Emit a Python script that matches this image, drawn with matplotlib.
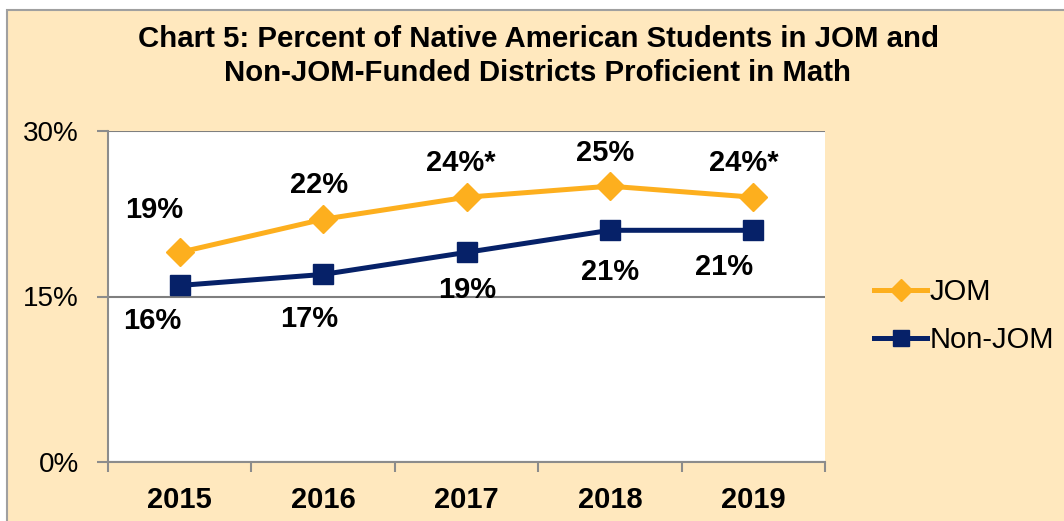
import matplotlib
matplotlib.use("Agg")
import matplotlib.pyplot as plt
from matplotlib.patches import Rectangle

years = ["2015", "2016", "2017", "2018", "2019"]
jom = [19, 22, 24, 25, 24]
non_jom = [16, 17, 19, 21, 21]
jom_labels = ["19%", "22%", "24%*", "25%", "24%*"]
non_jom_labels = ["16%", "17%", "19%", "21%", "21%"]
yticks = [0, 15, 30]
ytick_labels = ["0%", "15%", "30%"]
title = "Chart 5: Percent of Native American Students in JOM and\nNon-JOM-Funded Districts Proficient in Math"

# label offsets in pixels (dx, dy) relative to marker
jom_off = [(-26, 42), (-4, 34), (-6, 34), (-5, 33), (-9, 34)]
non_off = [(-27, -36), (-14, -45), (1, -38), (0, -42), (-29, -37)]

W, H, DPI = 1064, 521, 100
BG = "#FFE8BE"
ORANGE = "#FDAF1E"
NAVY = "#062168"
FONT = ["Liberation Sans", "DejaVu Sans"]
plt.rcParams["font.family"] = FONT

fig = plt.figure(figsize=(W / DPI, H / DPI), dpi=DPI, facecolor="white")
fig.patches.append(Rectangle((7 / W, -0.05), 1.2, (H - 10) / H + 0.05,
                             transform=fig.transFigure, facecolor=BG,
                             edgecolor="#A0A0A0", linewidth=1.5, zorder=-5))

ax = fig.add_axes([108 / W, 1 - 462 / H, (825 - 108) / W, (462 - 131) / H])
ax.set_zorder(2)
ax.set_facecolor("white")
x = list(range(len(years)))
ax.plot(x, jom, color=ORANGE, lw=3.6, marker="D", ms=14, label="JOM", zorder=3)
ax.plot(x, non_jom, color=NAVY, lw=3.6, marker="s", ms=14, label="Non-JOM", zorder=3)

px = 72 / DPI
for i in x:
    dx, dy = jom_off[i]
    ax.annotate(jom_labels[i], (i, jom[i]), xytext=(dx * px, dy * px),
                textcoords="offset points", ha="center", va="center",
                fontsize=21, fontweight="bold", color="black", zorder=4)
    dx, dy = non_off[i]
    ax.annotate(non_jom_labels[i], (i, non_jom[i]), xytext=(dx * px, dy * px),
                textcoords="offset points", ha="center", va="center",
                fontsize=21, fontweight="bold", color="black", zorder=4)

ax.set_xlim(-0.5, len(years) - 0.5)
ax.set_ylim(0, 30)
ax.set_yticks(yticks)
ax.set_yticklabels(ytick_labels, fontsize=20)
ax.set_xticks([i - 0.5 for i in range(len(years) + 1)])
ax.set_xticklabels([])
ax.set_xticks(x, minor=True)
ax.set_xticklabels(years, minor=True, fontsize=21, fontweight="bold")
ax.tick_params(axis="x", which="minor", length=0, pad=17)
ax.tick_params(axis="x", which="major", length=7, width=1.5, color="#8C8C8C", direction="out")
ax.tick_params(axis="y", length=8, width=1.5, color="#8C8C8C", direction="out", pad=13)
ax.grid(axis="y", color="#7F7F7F", lw=1.5)
ax.set_axisbelow(True)
for s in ["top", "right"]:
    ax.spines[s].set_visible(False)
for s in ["left", "bottom"]:
    ax.spines[s].set_color("#8C8C8C")
    ax.spines[s].set_linewidth(1.5)

fig.text(538 / W, 1 - 56 / H, title, ha="center", va="center", fontsize=21.2,
         fontweight="bold", linespacing=1.3)

leg = fig.legend(loc="center left", bbox_to_anchor=(848 / W, 1 - 316 / H), frameon=False,
                 fontsize=21, handlelength=1.8, handletextpad=0.1, labelspacing=0.7,
                 markerscale=0.8)

fig.savefig("out.png", dpi=DPI, facecolor=fig.get_facecolor())
